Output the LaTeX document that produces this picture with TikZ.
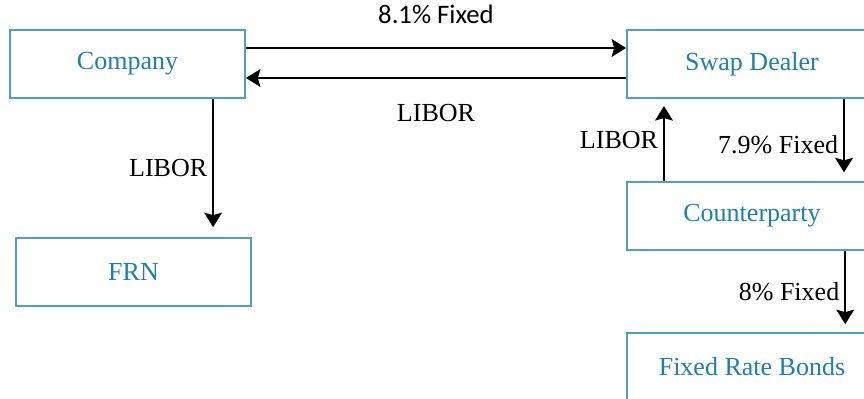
\documentclass[tikz,border=0pt]{standalone}
\usepackage{fontspec}
\setmainfont{Liberation Serif}
\newfontfamily\labelsans{Carlito}
\usetikzlibrary{arrows.meta,positioning}
\definecolor{boxline}{HTML}{4F9EC4}
\definecolor{boxtext}{HTML}{1F7FAB}
\tikzset{
  party/.style={draw=boxline,line width=1.2pt,minimum width=5.875cm,minimum height=1.7cm,
    text=boxtext,font=\fontsize{18.5}{20}\selectfont},
  flow/.style={->,line width=1.8pt},
  flowlabel/.style={font=\fontsize{18.5}{20}\selectfont}
}
\begin{document}
\begin{tikzpicture}[>={Stealth[length=0.36cm,width=0.44cm,inset=0.06cm]},x=0.025cm,y=-0.025cm]
  \useasboundingbox (0,0) rectangle (864,399);
  \clip (0,0) rectangle (864,399);
  % the parties
  \node[party] (comp) at (127.5,64) {Company};
  \node[party] (frn) at (133.5,272) {FRN};
  \node[party,minimum width=6.25cm] (dealer) at (752,64) {Swap Dealer};
  \node[party,minimum width=6.25cm] (cpty) at (752,216) {Counterparty};
  \node[party,minimum width=6.25cm] (bonds) at (752,367) {Fixed Rate Bonds};
  % payments between Company and Swap Dealer
  \draw[flow] ([yshift=0.4cm]comp.east) -- ([yshift=0.4cm]dealer.west)
    node[midway,above=0.45cm,font=\labelsans\fontsize{19}{21}\selectfont] {8.1\% Fixed};
  \draw[flow] ([yshift=-0.35cm]dealer.west) -- ([yshift=-0.35cm]comp.east)
    node[midway,below=0.5cm,flowlabel] {LIBOR};
  % Company pays the FRN
  \coordinate (c1) at ([xshift=2.14cm]comp.south);
  \draw[flow,shorten >=0.25cm] (c1) -- (c1 |- frn.north) node[midway,left,flowlabel] {LIBOR};
  % Swap Dealer and Counterparty
  \coordinate (c2) at ([xshift=-2.2cm]cpty.north);
  \draw[flow,shorten >=0.18cm] (c2) -- (c2 |- dealer.south) node[midway,left,flowlabel] {LIBOR};
  \coordinate (c3) at ([xshift=2.3cm]dealer.south);
  \draw[flow,shorten >=0.22cm] (c3) -- (c3 |- cpty.north) node[pos=0.56,left,flowlabel] {7.9\% Fixed};
  % Counterparty and the bonds
  \coordinate (c4) at ([xshift=2.33cm]cpty.south);
  \draw[flow,shorten >=0.2cm] (c4) -- (c4 |- bonds.north) node[midway,left,flowlabel] {8\% Fixed};
\end{tikzpicture}
\end{document}
